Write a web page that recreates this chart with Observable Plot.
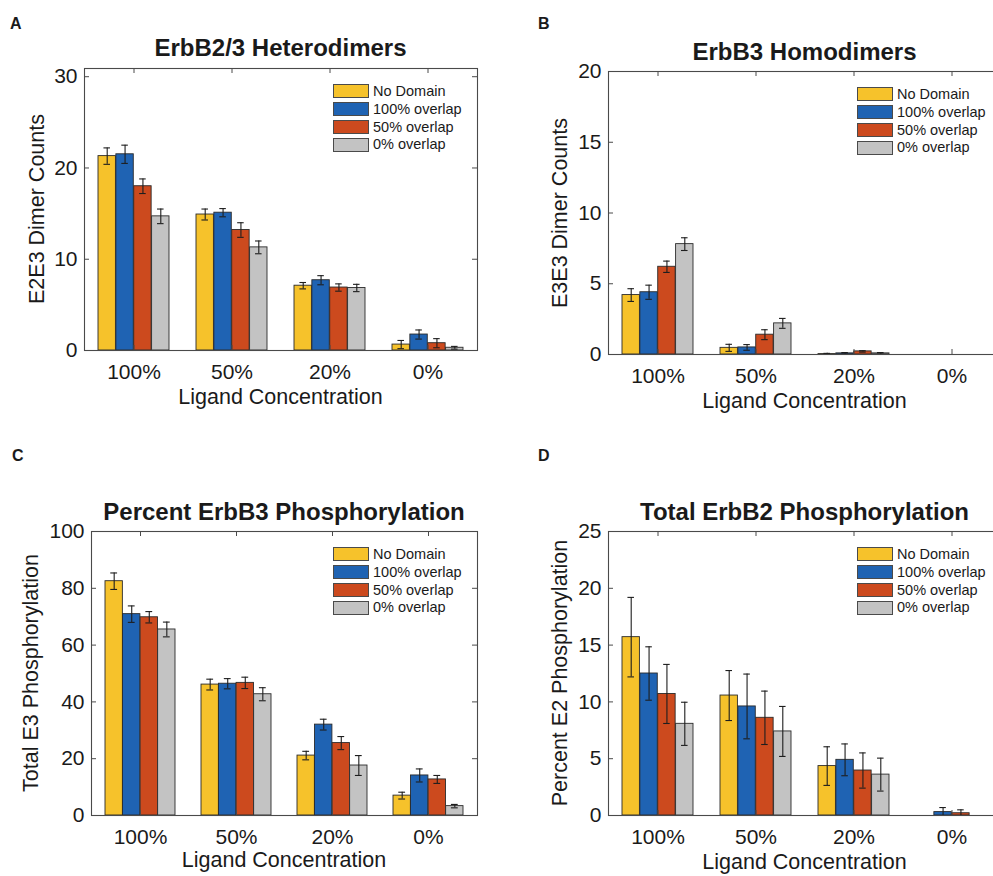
<!DOCTYPE html>
<html>
<head>
<meta charset="utf-8">
<script src="https://cdn.jsdelivr.net/npm/d3@7"></script>
<script src="https://cdn.jsdelivr.net/npm/@observablehq/plot@0.6"></script>
<style>
  html, body { margin: 0; padding: 0; background: #fff; }
  body { width: 993px; height: 876px; overflow: hidden; position: relative;
         font-family: "Liberation Sans", Arial, Helvetica, sans-serif; color: #1a1a1a; }
  .abs { position: absolute; white-space: nowrap; line-height: 1; }
  .panel { position: absolute; }
  .legend .row { display: flex; align-items: center; height: 17.7px; }
  .legend .sw { width: 34px; height: 12px; border: 1px solid #4a4a4a; margin-right: 4px; }
  .legend .lab { font-size: 14.5px; color: #1a1a1a; }
</style>
</head>
<body>
<script>
// ---------- data ----------
const groups = ["100%", "50%", "20%", "0%"];
const series = ["No Domain", "100% overlap", "50% overlap", "0% overlap"];
const colors = ["#F6C22B", "#1F63B3", "#CC4A1E", "#C3C3C3"];

// Panel A: ErbB2/3 Heterodimers (E2E3 Dimer Counts)
const heteroNoDomain = [21.3, 14.9, 7.1, 0.65];
const heteroOverlap100 = [21.5, 15.1, 7.7, 1.75];
const heteroOverlap50 = [18.0, 13.2, 6.9, 0.8];
const heteroOverlap0 = [14.7, 11.3, 6.85, 0.3];
const heteroErrNoDomain = [0.9, 0.6, 0.35, 0.45];
const heteroErrOverlap100 = [1.0, 0.45, 0.5, 0.5];
const heteroErrOverlap50 = [0.8, 0.8, 0.4, 0.5];
const heteroErrOverlap0 = [0.8, 0.7, 0.4, 0.15];
const heteroTicks = [0, 10, 20, 30];

// Panel B: ErbB3 Homodimers (E3E3 Dimer Counts)
const homoNoDomain = [4.2, 0.47, 0.03, 0];
const homoOverlap100 = [4.4, 0.5, 0.08, 0];
const homoOverlap50 = [6.2, 1.4, 0.22, 0];
const homoOverlap0 = [7.8, 2.2, 0.08, 0];
const homoErrNoDomain = [0.45, 0.25, 0.05, 0];
const homoErrOverlap100 = [0.5, 0.2, 0.06, 0];
const homoErrOverlap50 = [0.4, 0.35, 0.05, 0];
const homoErrOverlap0 = [0.45, 0.35, 0.06, 0];
const homoTicks = [0, 5, 10, 15, 20];

// Panel C: Percent ErbB3 Phosphorylation (Total E3 Phosphorylation)
const e3NoDomain = [82.5, 46.1, 21.1, 7.0];
const e3Overlap100 = [70.9, 46.4, 32.0, 14.1];
const e3Overlap50 = [69.8, 46.7, 25.5, 12.7];
const e3Overlap0 = [65.5, 42.7, 17.6, 3.3];
const e3ErrNoDomain = [2.9, 1.9, 1.5, 1.2];
const e3ErrOverlap100 = [2.9, 1.8, 1.9, 2.3];
const e3ErrOverlap50 = [2.0, 2.0, 2.3, 1.4];
const e3ErrOverlap0 = [2.6, 2.3, 3.5, 0.6];
const e3Ticks = [0, 20, 40, 60, 80, 100];

// Panel D: Total ErbB2 Phosphorylation (Percent E2 Phosphorylation)
const e2NoDomain = [15.7, 10.56, 4.35, 0];
const e2Overlap100 = [12.5, 9.6, 4.9, 0.3];
const e2Overlap50 = [10.7, 8.6, 3.96, 0.2];
const e2Overlap0 = [8.07, 7.4, 3.6, 0];
const e2ErrNoDomain = [3.5, 2.2, 1.7, 0];
const e2ErrOverlap100 = [2.35, 2.85, 1.4, 0.4];
const e2ErrOverlap50 = [2.6, 2.35, 1.55, 0.3];
const e2ErrOverlap0 = [1.9, 2.2, 1.45, 0];
const e2Ticks = [0, 5, 10, 15, 20, 25];

// ---------- layout ----------
const GROUP_FRAC = 4 / 5.5;          // MATLAB grouped-bar width
const PAD_INNER = 1 - GROUP_FRAC;
const FONT = "'Liberation Sans', Arial, Helvetica, sans-serif";
const AXIS_COLOR = "#4a4a4a";

const panels = [
  { letter: "A", lx: 10, ly: 18,
    title: "ErbB2/3 Heterodimers", titleTop: 39,
    ylabel: "E2E3 Dimer Counts", ylx: 37.5,
    xlabelTop: 390,
    left: 0, top: 0, width: 493, height: 420, mL: 84, mR: 16, mT: 68, mB: 70,
    yDomain: [0, 30.9], ticks: heteroTicks,
    vals: [heteroNoDomain, heteroOverlap100, heteroOverlap50, heteroOverlap0],
    errs: [heteroErrNoDomain, heteroErrOverlap100, heteroErrOverlap50, heteroErrOverlap0] },
  { letter: "B", lx: 538, ly: 18,
    title: "ErbB3 Homodimers", titleTop: 43,
    ylabel: "E3E3 Dimer Counts", ylx: 561,
    xlabelTop: 394,
    left: 500, top: 0, width: 520, height: 420, mL: 108, mR: 19, mT: 71, mB: 66,
    yDomain: [0, 20], ticks: homoTicks,
    vals: [homoNoDomain, homoOverlap100, homoOverlap50, homoOverlap0],
    errs: [homoErrNoDomain, homoErrOverlap100, homoErrOverlap50, homoErrOverlap0] },
  { letter: "C", lx: 12, ly: 450,
    title: "Percent ErbB3 Phosphorylation", titleTop: 503,
    ylabel: "Total E3 Phosphorylation", ylx: 32,
    xlabelTop: 853,
    left: 0, top: 440, width: 493, height: 436, mL: 91, mR: 16, mT: 91, mB: 61,
    yDomain: [0, 100], ticks: e3Ticks,
    vals: [e3NoDomain, e3Overlap100, e3Overlap50, e3Overlap0],
    errs: [e3ErrNoDomain, e3ErrOverlap100, e3ErrOverlap50, e3ErrOverlap0] },
  { letter: "D", lx: 538, ly: 450,
    title: "Total ErbB2 Phosphorylation", titleTop: 503,
    ylabel: "Percent E2 Phosphorylation", ylx: 560.5,
    xlabelTop: 855,
    left: 500, top: 440, width: 520, height: 436, mL: 108, mR: 19, mT: 91, mB: 61,
    yDomain: [0, 25], ticks: e2Ticks,
    vals: [e2NoDomain, e2Overlap100, e2Overlap50, e2Overlap0],
    errs: [e2ErrNoDomain, e2ErrOverlap100, e2ErrOverlap50, e2ErrOverlap0] }
];

function addText(str, x, capTop, size, bold, center) {
  const d = document.createElement("div");
  d.className = "abs";
  d.textContent = str;
  d.style.fontSize = size + "px";
  d.style.fontWeight = bold ? "bold" : "normal";
  d.style.top = (capTop - 0.1305 * size) + "px";
  d.style.left = x + "px";
  if (center) d.style.transform = "translateX(-50%)";
  document.body.appendChild(d);
}

function addRotated(str, cx, cy, size) {
  const d = document.createElement("div");
  d.className = "abs";
  d.textContent = str;
  d.style.fontSize = size + "px";
  d.style.left = cx + "px";
  d.style.top = cy + "px";
  d.style.transform = "translate(-50%, -50%) rotate(-90deg)";
  document.body.appendChild(d);
}

for (const p of panels) {
  const rows = [];
  series.forEach((s, si) => groups.forEach((g, gi) =>
    rows.push({ group: g, series: s, si, value: p.vals[si][gi], err: p.errs[si][gi] })));

  const fw = p.width - p.mL - p.mR;
  const fh = p.height - p.mT - p.mB;
  const bw = (fw / groups.length) * GROUP_FRAC;
  const sw = bw / series.length;
  const cap = 3.5;

  const marks = [];
  series.forEach((s, si) => {
    const sub = rows.filter(d => d.si === si);
    marks.push(Plot.barY(sub, {
      x: "group", y: "value", fill: colors[si], stroke: "#2b2b2b", strokeWidth: 0.9,
      insetLeft: si * sw, insetRight: (series.length - 1 - si) * sw
    }));
  });
  series.forEach((s, si) => {
    const sub = rows.filter(d => d.si === si && d.err > 0);
    const off = (si - (series.length - 1) / 2) * sw;
    const capL = si * sw + sw / 2 - cap;
    const capR = (series.length - 1 - si) * sw + sw / 2 - cap;
    marks.push(Plot.ruleX(sub, {
      x: "group", y1: d => Math.max(0, d.value - d.err), y2: d => d.value + d.err,
      dx: off, stroke: "#1e1e1e", strokeWidth: 1.1
    }));
    marks.push(Plot.tickY(sub, {
      x: "group", y: d => d.value + d.err, insetLeft: capL, insetRight: capR,
      stroke: "#1e1e1e", strokeWidth: 1.1
    }));
    marks.push(Plot.tickY(sub.filter(d => d.value - d.err > 0), {
      x: "group", y: d => d.value - d.err, insetLeft: capL, insetRight: capR,
      stroke: "#1e1e1e", strokeWidth: 1.1
    }));
  });
  // inward ticks (MATLAB box style)
  marks.push(Plot.tickY(p.ticks, { y: d => d, insetRight: fw - 5, stroke: AXIS_COLOR }));
  marks.push(Plot.tickY(p.ticks, { y: d => d, insetLeft: fw - 5, stroke: AXIS_COLOR }));
  marks.push(Plot.tickX(groups, { x: d => d, insetTop: fh - 5, stroke: AXIS_COLOR }));
  marks.push(Plot.tickX(groups, { x: d => d, insetBottom: fh - 5, stroke: AXIS_COLOR }));
  marks.push(Plot.frame({ stroke: AXIS_COLOR, strokeWidth: 1.1 }));
  marks.push(Plot.axisY({ ticks: p.ticks, anchor: "left", tickSize: 0, tickPadding: 7, label: null, fill: "#1a1a1a" }));
  marks.push(Plot.axisX({ anchor: "bottom", tickSize: 0, tickPadding: 14, label: null, fill: "#1a1a1a" }));

  const chart = Plot.plot({
    width: p.width, height: p.height,
    marginLeft: p.mL, marginRight: p.mR, marginTop: p.mT, marginBottom: p.mB,
    style: { fontSize: "21px", fontFamily: FONT, background: "transparent", color: "#1a1a1a" },
    x: { domain: groups, paddingInner: PAD_INNER, paddingOuter: PAD_INNER / 2, label: null },
    y: { domain: p.yDomain, label: null },
    marks
  });
  const wrap = document.createElement("div");
  wrap.className = "panel";
  wrap.style.left = p.left + "px";
  wrap.style.top = p.top + "px";
  wrap.style.width = p.width + "px";
  wrap.style.height = p.height + "px";
  wrap.appendChild(chart);
  document.body.appendChild(wrap);

  // text
  const frameLeft = p.left + p.mL, frameRight = p.left + p.width - p.mR;
  const frameTop = p.top + p.mT, frameBottom = p.top + p.height - p.mB;
  const cx = (frameLeft + frameRight) / 2;
  addText(p.letter, p.lx, p.ly, 16, true, false);
  addText(p.title, cx, p.titleTop, 24, true, true);
  addText("Ligand Concentration", cx, p.xlabelTop, 21.5, false, true);
  addRotated(p.ylabel, p.ylx, (frameTop + frameBottom) / 2, 21.5);

  // legend
  const lg = document.createElement("div");
  lg.className = "abs legend";
  lg.style.left = (frameRight - 144) + "px";
  lg.style.top = (frameTop + 14.6) + "px";
  series.forEach((s, si) => {
    const r = document.createElement("div");
    r.className = "row";
    const sq = document.createElement("div");
    sq.className = "sw";
    sq.style.background = colors[si];
    const t = document.createElement("div");
    t.className = "lab";
    t.textContent = s;
    r.appendChild(sq); r.appendChild(t);
    lg.appendChild(r);
  });
  document.body.appendChild(lg);
}
</script>
</body>
</html>
